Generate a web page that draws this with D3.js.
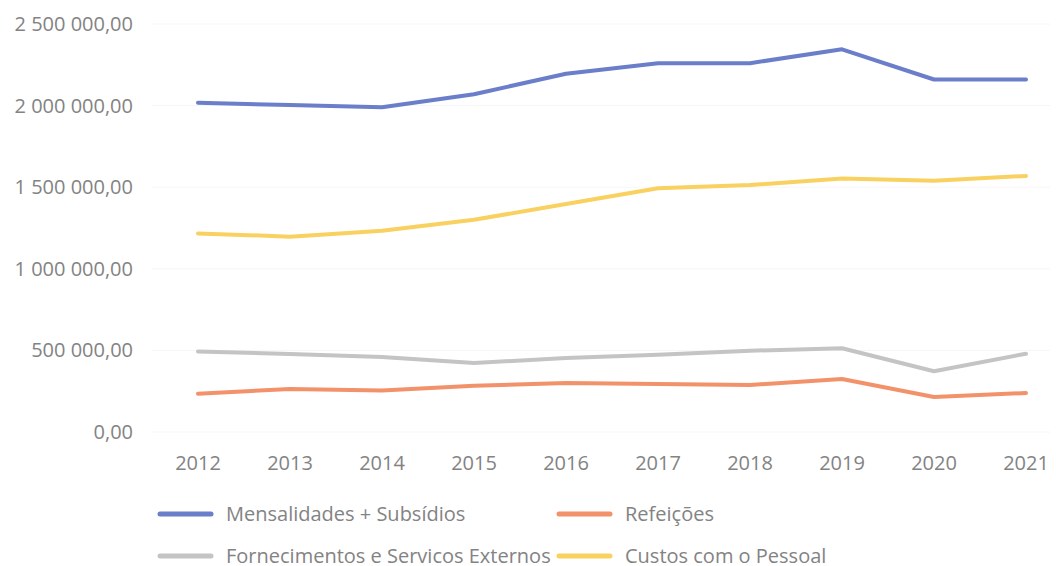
<!DOCTYPE html>
<html>
<head>
<meta charset="utf-8">
<script src="https://cdn.jsdelivr.net/npm/d3@7"></script>
<style>
  body { margin: 0; background: #fff; }
  svg text { font-family: "Open Sans", "Liberation Sans", sans-serif; fill: #838383; }
</style>
</head>
<body>
<svg id="chart" width="1056" height="566"></svg>
<script>
// data
const years = [2012, 2013, 2014, 2015, 2016, 2017, 2018, 2019, 2020, 2021];
const mensalidades = [2018000, 2003000, 1990000, 2070000, 2195000, 2260000, 2260000, 2345000, 2160000, 2160000];
const refeicoes = [235000, 263000, 255000, 284000, 300000, 294000, 288000, 325000, 214000, 239000];
const fornecimentos = [494000, 478000, 460000, 423000, 453000, 474000, 498000, 513000, 372000, 480000];
const custos = [1217000, 1197000, 1233000, 1300000, 1397000, 1493000, 1513000, 1554000, 1540000, 1569000];
const yTicks = [0, 500000, 1000000, 1500000, 2000000, 2500000];

const series = [
  { name: "Mensalidades + Subsídios", values: mensalidades, color: "#6a7ec9" },
  { name: "Refeições", values: refeicoes, color: "#f2926a" },
  { name: "Fornecimentos e Servicos Externos", values: fornecimentos, color: "#c4c4c4" },
  { name: "Custos com o Pessoal", values: custos, color: "#f9d160" }
];

const svg = d3.select("#chart");

let x = d3.scalePoint().domain(years).range([198, 1026]);
let y = d3.scaleLinear().domain([0, 2500000]).range([432, 24]);

// number format like "2 500 000,00"
const fmt = d3.formatLocale({ decimal: ",", thousands: " ", grouping: [3], currency: ["", ""] }).format(",.2f");

// faint gridlines
svg.append("g")
  .selectAll("line")
  .data(yTicks)
  .join("line")
  .attr("x1", 152).attr("x2", 1050)
  .attr("y1", d => y(d)).attr("y2", d => y(d))
  .style("stroke", "#f6f6f6")
  .style("stroke-width", 1);

// y labels
svg.append("g")
  .selectAll("text")
  .data(yTicks)
  .join("text")
  .text(d => fmt(d))
  .attr("x", 133)
  .attr("y", d => y(d))
  .attr("dy", "0.35em")
  .attr("text-anchor", "end")
  .style("font-size", "20px");

// x labels
svg.append("g")
  .selectAll("text")
  .data(years)
  .join("text")
  .text(d => d)
  .attr("x", d => x(d))
  .attr("y", 463)
  .attr("dy", "0.35em")
  .attr("text-anchor", "middle")
  .style("font-size", "20px");

let line = d3.line()
  .x((d, i) => x(years[i]))
  .y(d => y(d));

svg.append("g")
  .selectAll("path")
  .data(series)
  .join("path")
  .attr("d", d => line(d.values))
  .attr("fill", "none")
  .style("stroke", d => d.color)
  .style("stroke-width", 4)
  .style("stroke-linejoin", "round")
  .style("stroke-linecap", "round");

// legend, two columns
const legendPos = [[158, 514], [557, 514], [158, 556], [557, 556]];
let lg = svg.append("g")
  .selectAll("g")
  .data(series)
  .join("g")
  .attr("transform", (d, i) => `translate(${legendPos[i][0]},${legendPos[i][1]})`);

lg.append("line")
  .attr("x1", 2).attr("x2", 53)
  .attr("y1", 0).attr("y2", 0)
  .style("stroke", d => d.color)
  .style("stroke-width", 5)
  .style("stroke-linecap", "round");

lg.append("text")
  .text(d => d.name)
  .attr("x", 68)
  .attr("y", 0)
  .attr("dy", "0.35em")
  .style("font-size", "20px");
</script>
</body>
</html>
